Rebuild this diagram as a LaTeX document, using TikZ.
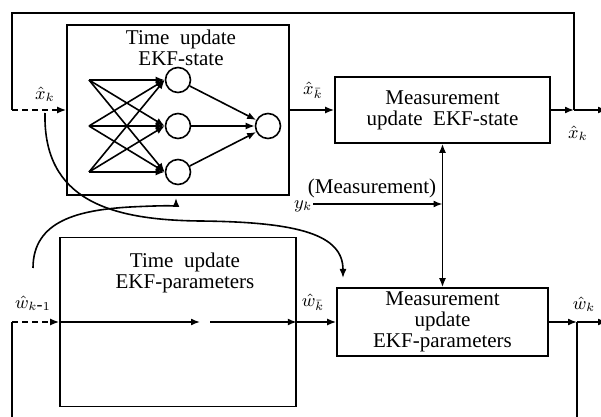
\documentclass[tikz,border=0pt]{standalone}
\usepackage{fontspec}
\setmainfont{Liberation Serif}
\usetikzlibrary{arrows.meta}

\tikzset{
    box/.style={draw, thick, inner sep=1pt, align=center, font=\fontsize{10.5}{10.5}\selectfont},
    neuron/.style={draw, circle, thick, minimum size=12.5pt, inner sep=0pt},
    lbl/.style={inner sep=0pt, font=\small},
    wire/.style={thick, -{Latex[length=4.5pt,width=3.5pt]}},
}

\begin{document}
\begin{tikzpicture}[x=0.5pt, y=-0.5pt, line width=0.6pt]

\useasboundingbox (0,0) rectangle (601,417);
\clip (0,0) rectangle (601,417);

% -------- State filter --------
\node[box, minimum width=111pt, minimum height=85pt] (stu) at (178,110) {};
\node[lbl, align=center, font=\fontsize{10.5}{10.5}\selectfont] (stutxt) at (181,48) {Time~~update\\EKF-state};
\node[box, minimum width=107.5pt, minimum height=33pt] (smu) at (442.5,110) {Measurement\\update~~EKF-state};

% neural net inside the time update
\foreach \i/\y in {1/80,2/126,3/172}{
    \coordinate (in\i) at (89,\y);
    \node[neuron] (h\i) at (178,\y) {};
}
\node[neuron] (out) at (268,126) {};
\foreach \i in {1,2,3}{
    \foreach \j in {1,2,3}{
        \draw[wire] (in\i) -- (h\j.west);
    }
    \draw[wire] (h\i) -- (out);
}

% -------- Parameter filter --------
\node[box, minimum width=118pt, minimum height=84.5pt] (ptu) at (178,322) {};
\node[lbl, align=center, font=\fontsize{10.5}{10.5}\selectfont] (ptutxt) at (185,273) {Time~~update\\EKF-parameters};
\node[box, minimum width=105.5pt, minimum height=34pt] (pmu) at (442.5,322) {Measurement\\update\\EKF-parameters};

% -------- Signal lines --------
\coordinate (xin)   at (12,110);
\coordinate (xfork) at (574,110);
\coordinate (xend)  at (607,110);
\coordinate (win)   at (12,322);
\coordinate (wfork) at (577,322);
\coordinate (wend)  at (607,322);
\coordinate (wmid)  at (200,322);
\coordinate (wmid2) at (210,322);
\coordinate (ymeas) at (313,204);

\draw[wire, densely dashed] (xin) -- (stu.west);
\draw[wire] (stu.east) -- (smu.west);
\draw[wire] (smu.east) -- (xfork);
\draw[wire] (xfork) -- (xend);
\draw[thick] (xfork) -- (574,13) -| (xin);

\draw[wire, densely dashed] (win) -- (ptu.west);
\draw[wire] (ptu.west) -- (wmid);
\draw[wire] (wmid2) -- (ptu.east);
\draw[wire] (ptu.east) -- (pmu.west);
\draw[wire] (pmu.east) -- (wfork);
\draw[wire] (wfork) -- (wend);
\draw[thick] (wfork) -- (577,420);
\draw[thick] (win) -- (12,420);

% measurement input
\draw[thick, {Latex[length=4.5pt,width=3.5pt]}-{Latex[length=4.5pt,width=3.5pt]}] (pmu.north) -- (smu.south);
\draw[wire] (ymeas) -- (ymeas -| smu.south);
\node[lbl, anchor=east] (ylbl) at ([yshift=-1pt]ymeas) {$y_k$};
\node[lbl, font=\fontsize{10.5}{10.5}\selectfont] (meas) at (372,188) {(Measurement)};

% labels
\node[lbl] (xk)    at (45,94)   {$\hat{x}_k$};
\node[lbl] (xbar)  at (313,90)  {$\hat{x}_{\bar{k}}$};
\node[lbl] (xout)  at (578,133) {$\hat{x}_k$};
\node[lbl] (wkm)   at (33,303)  {$\hat{w}_{k\mbox{-}1}$};
\node[lbl] (wbar)  at (313,302) {$\hat{w}_{\bar{k}}$};
\node[lbl] (wout)  at (584,304) {$\hat{w}_k$};

% cross couplings
\draw[wire] (45,113) .. controls (43,200) and (110,220) .. (200,221)
    .. controls (300,222) and (343,235) .. (343,278);
\draw[wire] (33,268) .. controls (33,220) and (80,210) .. (130,207)
    .. controls (170,205) and (176,206) .. (176,198);

\end{tikzpicture}
\end{document}
